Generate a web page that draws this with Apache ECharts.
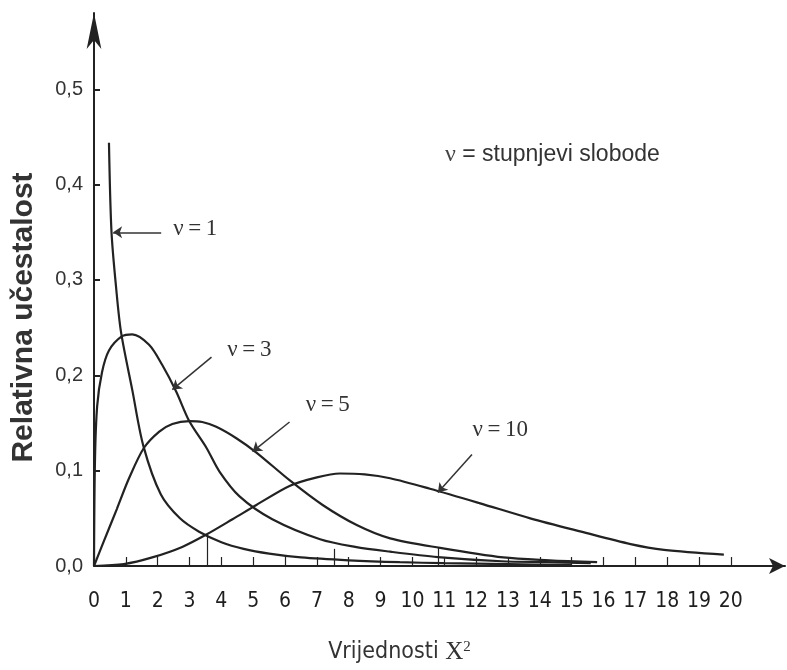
<!DOCTYPE html>
<html>
<head>
<meta charset="utf-8">
<script src="https://cdn.jsdelivr.net/npm/echarts@6/dist/echarts.min.js"></script>
<style>
  html, body { margin: 0; background: #fff; }
  #chart { width: 787px; height: 670px; }
</style>
</head>
<body>
<div id="chart"></div>
<script>
// tick values
const xTicks = [0, 1, 2, 3, 4, 5, 6, 7, 8, 9, 10, 11, 12, 13, 14, 15, 16, 17, 18, 19, 20]
const yTicks = [0, 0.1, 0.2, 0.3, 0.4, 0.5]

// curves (x = chi-square value, y = relative frequency)
const v1X = [0.47, 0.55, 0.7, 0.85, 1.2, 1.55, 2.1, 2.7, 3.3, 4.0, 4.7, 5.5, 6.5, 8, 9.6, 11, 13, 15]
const v1Y = [0.444, 0.35, 0.29, 0.245, 0.185, 0.126, 0.075, 0.05, 0.036, 0.025, 0.018, 0.013, 0.009, 0.006, 0.004, 0.003, 0.002, 0.001]

const v3X = [0, 0.03, 0.1, 0.25, 0.47, 0.88, 1.2, 1.73, 2.14, 2.58, 2.99, 3.53, 3.94, 4.57, 5.6, 7.1, 8.2, 9.3, 10.8, 12.8, 14.2, 15.6]
const v3Y = [0, 0.11, 0.168, 0.203, 0.226, 0.241, 0.243, 0.232, 0.211, 0.183, 0.152, 0.124, 0.099, 0.073, 0.049, 0.028, 0.02, 0.015, 0.0094, 0.005, 0.004, 0.003]

const v5X = [0, 0.31, 0.72, 1.1, 1.57, 2.05, 2.46, 2.99, 3.4, 3.84, 4.47, 5.1, 6.14, 7.18, 8.25, 9.3, 10.87, 12.85, 14.3, 15.8]
const v5Y = [0, 0.026, 0.06, 0.092, 0.124, 0.141, 0.149, 0.152, 0.151, 0.146, 0.134, 0.119, 0.09, 0.064, 0.043, 0.029, 0.019, 0.009, 0.006, 0.004]

const v10X = [0, 0.94, 1.83, 2.77, 3.53, 4.35, 5.1, 6.14, 7.0, 7.72, 8.5, 9.3, 10.55, 12.1, 13.7, 15.3, 16.85, 17.9, 19.78]
const v10Y = [0, 0.002, 0.009, 0.02, 0.033, 0.049, 0.064, 0.084, 0.093, 0.097, 0.096, 0.092, 0.081, 0.066, 0.05, 0.036, 0.023, 0.017, 0.012]

// curve labels and their pointer arrows
const curveNames = ['ν\u2009=\u20091', 'ν\u2009=\u20093', 'ν\u2009=\u20095', 'ν\u2009=\u200910']
const labelPos = [[3.18, 0.353], [4.88, 0.227], [7.34, 0.169], [12.76, 0.143]]
const arrowFrom = [[2.11, 0.35], [3.69, 0.219], [6.14, 0.151], [11.87, 0.117]]
const arrowTo = [[0.6, 0.35], [2.46, 0.185], [4.98, 0.12], [10.8, 0.077]]

// hand drawn drop lines down to the axis
const dropX = [3.56, 7.56, 10.8]
const dropTop = [0.031, 0.018, 0.019]

const ink = '#222'
const chart = echarts.init(document.getElementById('chart'))

function curve(i, xs, ys) {
  return {
    name: curveNames[i],
    type: 'line',
    data: xs.map((x, k) => [x, ys[k]]),
    smooth: 0.3,
    showSymbol: false,
    lineStyle: { color: ink, width: 2.2 },
    markLine: {
      silent: true,
      symbol: ['none', 'arrow'],
      symbolSize: 9,
      label: { show: false },
      lineStyle: { color: '#333', width: 1.5, type: 'solid' },
      data: [[{ coord: arrowFrom[i] }, { coord: arrowTo[i] }]]
    },
    markPoint: {
      silent: true,
      symbol: 'circle',
      symbolSize: 0,
      label: {
        show: true,
        position: 'inside',
        formatter: curveNames[i],
        fontFamily: 'Liberation Serif',
        fontSize: 23,
        color: '#333'
      },
      data: [{ coord: labelPos[i] }]
    }
  }
}

const series = [curve(0, v1X, v1Y), curve(1, v3X, v3Y), curve(2, v5X, v5Y), curve(3, v10X, v10Y)]
series.push({
  type: 'line',
  data: [],
  markLine: {
    silent: true,
    symbol: 'none',
    label: { show: false },
    lineStyle: { color: ink, width: 1.2, type: 'solid' },
    data: dropX.map((x, k) => [{ coord: [x, 0] }, { coord: [x, dropTop[k]] }])
  }
})

chart.setOption({
  animation: false,
  backgroundColor: '#fff',
  title: {
    text: '{n|ν} = stupnjevi slobode',
    left: 440,
    top: 138,
    textStyle: {
      fontFamily: 'Liberation Sans',
      fontSize: 23,
      fontWeight: 'normal',
      color: '#333',
      rich: {
        n: { fontFamily: 'Liberation Serif', fontSize: 24, color: '#444' }
      }
    }
  },
  grid: { left: 94, right: 2, top: 13, bottom: 102 },
  xAxis: {
    type: 'value',
    min: 0,
    max: 21.7,
    interval: 1,
    name: '{a|Vrijednosti }{b|X}{c|2}',
    nameLocation: 'middle',
    nameGap: 74,
    nameTextStyle: {
      padding: [0, 80, 0, 0],
      rich: {
        a: { fontFamily: 'DejaVu Sans Condensed, Liberation Sans', fontSize: 23, color: '#333' },
        b: { fontFamily: 'Liberation Serif', fontSize: 25, color: '#333' },
        c: { fontFamily: 'Liberation Serif', fontSize: 15, color: '#333', verticalAlign: 'top', lineHeight: 15 }
      }
    },
    splitLine: { show: false },
    axisLine: {
      onZero: false,
      symbol: ['none', 'arrow'],
      symbolSize: [12, 16],
      lineStyle: { color: ink, width: 2 }
    },
    axisTick: { inside: true, length: 9, customValues: xTicks, lineStyle: { color: ink, width: 1.2 } },
    axisLabel: {
      customValues: xTicks,
      margin: 25,
      fontFamily: 'DejaVu Sans Condensed, Liberation Sans',
      fontSize: 21,
      color: '#1e1e1e'
    }
  },
  yAxis: {
    type: 'value',
    min: 0,
    max: 0.58,
    interval: 0.1,
    name: 'Relativna učestalost',
    nameLocation: 'middle',
    nameRotate: 90,
    nameGap: 55,
    nameTextStyle: {
      fontFamily: 'Liberation Sans',
      fontSize: 30,
      fontWeight: 'bold',
      color: '#333',
      padding: [0, 56, 0, 0]
    },
    splitLine: { show: false },
    axisLine: {
      show: true,
      onZero: false,
      symbol: ['none', 'arrow'],
      symbolSize: [11, 36],
      lineStyle: { color: ink, width: 2 }
    },
    axisTick: { show: true, inside: true, length: 6, customValues: yTicks, lineStyle: { color: ink, width: 2 } },
    axisLabel: {
      customValues: yTicks,
      margin: 11,
      fontFamily: 'Liberation Sans',
      fontSize: 20,
      color: '#333',
      formatter: v => v.toFixed(1).replace('.', ',')
    }
  },
  series: series
})
</script>
</body>
</html>
